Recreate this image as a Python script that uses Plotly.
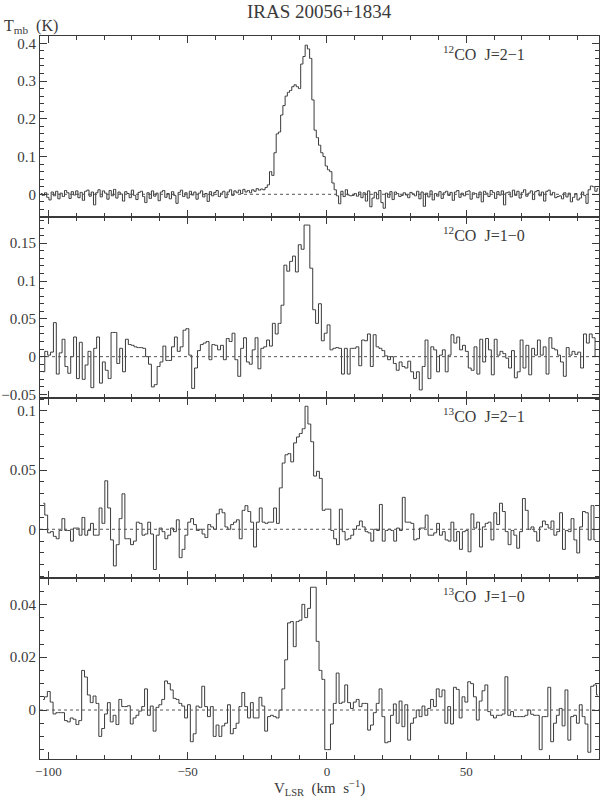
import numpy as np
import plotly.graph_objects as go
from plotly.subplots import make_subplots

# ---------------- data ----------------
# 12CO J=2-1, channel centres from -102.6 to 97.4 km/s
co12_21 = [0.002, -0.003, 0.004, -0.008, -0.015, 0.006, -0.004, 0.008, -0.012, 0.003,
           -0.006, 0.010, 0.004, -0.011, 0.007, -0.002, 0.009, -0.009, 0.005, -0.016,
           0.008, 0.011, -0.005, 0.006, -0.028, 0.004, 0.012, -0.007, 0.009, 0.003,
           -0.013, 0.010, -0.004, 0.013, -0.010, 0.006, 0.001, -0.018, 0.007, 0.002,
           -0.009, 0.011, -0.003, -0.014, 0.005, 0.008, -0.006, -0.022, 0.004, -0.011,
           0.009, -0.005, 0.003, -0.017, 0.006, 0.010, -0.008, 0.002, -0.012, 0.007,
           -0.003, -0.024, 0.005, 0.011, -0.006, 0.004, -0.010, 0.008, -0.002, 0.006,
           -0.013, 0.003, 0.009, -0.007, 0.002, -0.019, 0.007, -0.004, 0.005, 0.010,
           -0.006, 0.003, 0.008, -0.009, 0.006, 0.012, -0.003, 0.009, 0.004, 0.011,
           0.002, 0.013, 0.006, 0.010, 0.004, 0.012, 0.008, 0.015, 0.011, 0.014,
           0.012, 0.018, 0.025, 0.060, 0.050, 0.110, 0.160, 0.165, 0.210, 0.235,
           0.260, 0.270, 0.275, 0.285, 0.290, 0.285, 0.280, 0.345, 0.365, 0.395,
           0.385, 0.360, 0.250, 0.170, 0.150, 0.130, 0.110, 0.100, 0.075, 0.065,
           0.060, 0.030, 0.012,
           -0.004, -0.025, 0.008, -0.006, 0.012, -0.002, -0.004, -0.003, 0.002, -0.005,
           0.006, -0.009, 0.004, -0.018, 0.009, -0.033, -0.010, 0.005, -0.012, 0.010,
           -0.022, -0.037, 0.003, -0.008, 0.007, -0.014, 0.006, 0.002, -0.006, -0.003,
           0.004, -0.002, -0.009, 0.005, 0.001, -0.004, 0.008, -0.012, 0.006, -0.032,
           0.003, -0.007, 0.009, -0.015, 0.002, -0.005, 0.007, -0.011, 0.004, 0.008,
           -0.003, 0.005, -0.016, 0.006, 0.010, -0.008, 0.003, -0.004, 0.007, 0.009,
           -0.013, 0.004, 0.002, -0.009, 0.006, -0.020, 0.008, 0.003, -0.006, 0.010,
           0.005, -0.011, 0.007, -0.002, 0.009, -0.028, 0.004, 0.006, -0.007, 0.011,
           -0.003, 0.008, -0.010, 0.005, 0.012, -0.005, 0.003, 0.009, -0.014, 0.007,
           0.010, -0.004, 0.006, -0.018, 0.008, 0.011, -0.002, 0.005, -0.009, -0.006,
           -0.004, -0.012, 0.004, -0.007, 0.003, -0.020, -0.008, 0.002, -0.015, -0.010,
           0.006, -0.003, -0.024, 0.012, 0.022, 0.020, 0.008, 0.015]

# 12CO J=1-0
co12_10 = [-0.020, 0.007, 0.002, 0.006, 0.045, -0.023, 0.005, 0.023, -0.013, -0.022,
           0.000, 0.026, -0.029, 0.019, -0.030, -0.011, 0.007, -0.041, 0.011, 0.026,
           -0.035, -0.007, -0.018, -0.029, 0.032, 0.032, -0.009, 0.011, -0.020, 0.023,
           0.016, 0.015, 0.013, 0.012, 0.012, 0.011, 0.000, -0.010, -0.040, -0.037,
           -0.013, -0.007, 0.014, -0.005, -0.005, 0.013, 0.026, 0.007, 0.013, 0.035,
           0.037, 0.002, -0.042, -0.015, 0.008, 0.016, 0.018, 0.020, -0.004, 0.016,
           0.015, 0.009, 0.015, -0.004, 0.024, 0.020, 0.031, -0.004, -0.026, 0.011,
           0.025, -0.007, -0.010, 0.009, 0.025, -0.016, 0.011, 0.013, 0.022, 0.014,
           0.044, 0.030, 0.044, 0.068, 0.121, 0.113, 0.126, 0.133, 0.112, 0.148,
           0.142, 0.174, 0.174, 0.117, 0.062, 0.044, 0.070, 0.021, 0.031, 0.042,
           0.009, 0.011, 0.012, 0.011, -0.023, 0.011, -0.023, 0.011, 0.011, 0.013,
           -0.012, 0.022, 0.021, 0.030, -0.013, 0.029, 0.013, 0.011, 0.008, 0.001,
           -0.004, 0.000, -0.009, -0.018, -0.007, -0.013, -0.015, -0.006, -0.020, -0.029,
           -0.020, -0.044, -0.013, 0.022, -0.029, 0.013, 0.009, -0.020, 0.002, 0.009,
           -0.020, 0.002, 0.029, 0.018, 0.026, 0.009, 0.015, 0.007, -0.015, -0.018,
           0.013, -0.023, 0.023, -0.007, 0.024, 0.009, -0.024, 0.023, 0.002, 0.007,
           0.004, -0.002, -0.015, 0.008, -0.028, -0.020, 0.022, -0.015, 0.015, -0.024,
           0.011, 0.002, 0.022, 0.002, 0.013, -0.023, 0.025, 0.011, 0.009, 0.002,
           -0.007, -0.026, 0.012, 0.002, 0.007, 0.003, 0.006, -0.015, 0.030, 0.018,
           0.030, 0.025, 0.000]

# 13CO J=2-1
co13_21 = [0.022, 0.012, -0.003, -0.002, -0.006, -0.008, -0.001, 0.009, -0.001, -0.001,
           -0.010, 0.001, 0.001, -0.005, 0.010, -0.005, -0.001, 0.005, -0.005, -0.005,
           0.018, 0.005, 0.041, 0.018, -0.009, -0.031, -0.013, 0.009, 0.030, -0.008,
           -0.008, -0.013, -0.010, 0.006, 0.005, -0.005, -0.004, 0.006, -0.004, -0.034,
           -0.005, 0.001, -0.002, -0.008, -0.005, 0.001, -0.002, 0.008, -0.024, -0.017,
           -0.005, 0.006, 0.009, 0.004, -0.001, 0.000, -0.004, -0.007, 0.004, 0.002,
           0.000, 0.013, 0.017, 0.014, 0.002, 0.000, 0.004, 0.006, 0.008, -0.008,
           0.016, 0.020, 0.015, 0.006, -0.015, 0.006, 0.018, 0.006, 0.005, 0.006,
           0.006, 0.018, 0.005, 0.035, 0.056, 0.063, 0.064, 0.057, 0.073, 0.078,
           0.081, 0.085, 0.104, 0.089, 0.074, 0.045, 0.049, 0.043, 0.016, 0.017,
           0.017, -0.001, -0.008, -0.013, 0.017, -0.002, -0.009, -0.008, -0.005, 0.000,
           0.003, 0.007, 0.002, -0.002, -0.003, -0.010, 0.000, -0.001, 0.021, -0.010,
           -0.001, 0.000, -0.001, -0.010, 0.001, -0.001, 0.027, 0.006, 0.006, 0.005,
           -0.009, -0.008, 0.001, 0.001, 0.012, -0.005, -0.005, -0.003, 0.005, -0.005,
           -0.002, -0.009, -0.010, 0.006, -0.010, -0.002, -0.017, -0.002, -0.001, -0.019,
           0.013, 0.001, 0.006, -0.015, 0.002, 0.005, 0.006, -0.009, 0.014, 0.004,
           0.022, 0.015, -0.002, -0.013, -0.001, -0.005, -0.016, -0.002, 0.026, 0.016,
           0.000, 0.002, -0.002, -0.010, 0.002, 0.007, 0.004, 0.001, 0.007, -0.005,
           -0.002, 0.014, -0.017, -0.001, -0.002, 0.009, -0.009, -0.020, 0.002, 0.015,
           0.014, -0.009, 0.020, -0.009]

# 13CO J=1-0
co13_10 = [0.004, 0.005, 0.007, 0.003, -0.0015, -0.001, -0.001, -0.001, -0.004, -0.0045,
           -0.003, -0.0035, -0.0055, -0.004, 0.015, 0.0125, 0.0057, 0.0028, 0.0053, 0.0025,
           -0.010, -0.007, -0.0015, 0.0028, -0.0045, -0.002, -0.0055, 0.004, 0.0013, 0.0013,
           0.0016, -0.0053, -0.003, -0.002, -0.0004, 0.0013, 0.008, -0.002, 0.0015, -0.008,
           0.001, 0.002, 0.004, 0.011, 0.010, 0.0076, 0.0044, 0.004, 0.0025, 0.0015,
           -0.003, 0.002, -0.012, -0.009, 0.0015, 0.001, 0.009, 0.0013, -0.0025, 0.0013,
           -0.010, -0.0057, -0.010, -0.006, -0.005, 0.002, -0.009, -0.007, -0.005, 0.0013,
           0.0066, 0.0013, -0.003, 0.0028, -0.003, -0.003, 0.0048, 0.0015, -0.008, -0.0025,
           -0.002, -0.0025, -0.003, 0.000, 0.008, 0.019, 0.033, 0.0335, 0.024, 0.0335,
           0.034, 0.040, 0.035, 0.0385, 0.0465, 0.0465, 0.026, 0.015, 0.0116, -0.015,
           -0.015, -0.0053, 0.0025, 0.014, 0.0025, 0.003, 0.0095, 0.0028, 0.0006, 0.003,
           0.004, 0.0013, 0.0025, 0.0025, -0.0076, -0.0057, -0.001, 0.0025, 0.008, -0.0025,
           -0.0124, -0.012, -0.002, 0.0023, -0.005, 0.0034, -0.0063, 0.002, -0.0114, -0.005,
           -0.003, 0.000, -0.0025, 0.0015, -0.002, 0.0006, 0.004, 0.0013, 0.008, 0.005,
           0.0076, -0.005, 0.0013, -0.0053, 0.0086, 0.0078, -0.003, 0.005, 0.003, 0.0107,
           0.010, 0.005, -0.0038, 0.0034, 0.0073, 0.0095, -0.0006, -0.002, -0.003, -0.002,
           -0.002, -0.0015, 0.0126, -0.002, -0.0006, -0.0025, -0.0025, -0.0025, -0.0025, -0.002,
           0.000, -0.0016, -0.002, -0.002, -0.015, -0.0025, -0.0025, 0.0086, -0.012, -0.005,
           -0.002, 0.0006, -0.006, 0.0076, -0.0114, -0.0025, -0.002, -0.005, 0.002, -0.0025,
           -0.0053, -0.016, 0.009, 0.0095, 0.0057]

# first / last channel centre (km/s) of each spectrum
v_first = [-102.6, -101.8, -101.8, -101.9]
v_last = [97.4, 96.8, 96.4, 97.3]

spectra = [co12_21, co12_10, co13_21, co13_10]
line_labels = ["<sup>12</sup>CO  J=2\u22121", "<sup>12</sup>CO  J=1\u22120",
               "<sup>13</sup>CO  J=2\u22121", "<sup>13</sup>CO  J=1\u22120"]

y_ranges = [[-0.0595, 0.4193], [-0.054, 0.185], [-0.0414, 0.1114], [-0.01855, 0.0499]]
y_tickvals = [[0, 0.1, 0.2, 0.3, 0.4], [-0.05, 0, 0.05, 0.1, 0.15],
              [0, 0.05, 0.1], [0, 0.02, 0.04]]
y_ticktext = [["0", "0.1", "0.2", "0.3", "0.4"], ["\u22120.05", "0", "0.05", "0.1", "0.15"],
              ["0", "0.05", "0.1"], ["0", "0.02", "0.04"]]
y_minor = [0.02, 0.01, 0.01, 0.005]

x_range = [-103.0, 97.7]
x_tickvals = [-100, -50, 0, 50]
x_ticktext = ["\u2212100", "\u221250", "0", "50"]

title = "IRAS 20056+1834"
y_title = "T<sub>mb</sub>  (K)"
x_title = "V<sub>LSR</sub>  (km  s<sup>\u22121</sup>)"

# ---------------- figure ----------------
W, H = 600, 798
ML, MR, MT, MB = 40, 1, 36, 39
FONT = "Liberation Serif"
INK = "#3a3a3a"

fig = make_subplots(rows=4, cols=1, shared_xaxes=True, vertical_spacing=0)

for i, vals in enumerate(spectra):
    r = i + 1
    x = np.linspace(v_first[i], v_last[i], len(vals))
    fig.add_trace(go.Scatter(x=x, y=vals, mode="lines",
                             line=dict(shape="hvh", color=INK, width=1),
                             hoverinfo="skip", showlegend=False), row=r, col=1)
    # dotted zero line
    fig.add_trace(go.Scatter(x=x_range, y=[0, 0], mode="lines",
                             line=dict(color="#555555", width=1, dash="dot"),
                             hoverinfo="skip", showlegend=False), row=r, col=1)
    fig.update_yaxes(row=r, col=1, range=y_ranges[i], tickvals=y_tickvals[i],
                     ticktext=y_ticktext[i], ticks="inside", ticklen=7, tickcolor=INK,
                     showline=True, linecolor=INK, linewidth=1, mirror="ticks",
                     showgrid=False, zeroline=False,
                     minor=dict(dtick=y_minor[i], tick0=0, ticks="inside", ticklen=4,
                                tickcolor=INK, showgrid=False),
                     tickfont=dict(family=FONT, size=15, color=INK))
    fig.update_xaxes(row=r, col=1, range=x_range, tickvals=x_tickvals,
                     ticktext=x_ticktext, ticks="inside", ticklen=7, tickcolor=INK,
                     showline=True, linecolor=INK, linewidth=1, mirror="ticks",
                     showgrid=False, zeroline=False,
                     minor=dict(dtick=10, tick0=0, ticks="inside", ticklen=4,
                                tickcolor=INK, showgrid=False),
                     showticklabels=(r == 4),
                     tickfont=dict(family=FONT, size=13, color=INK))
    fig.add_annotation(text=line_labels[i], xref=f"x{'' if r == 1 else r}",
                       yref=f"y{'' if r == 1 else r} domain", x=41, y=0.905,
                       xanchor="left", yanchor="middle", showarrow=False,
                       font=dict(family=FONT, size=16, color=INK))

PH = H - MT - MB
fig.add_annotation(text=title, xref="paper", yref="paper", x=0.5, y=1 + (MT - 12) / PH,
                   xanchor="center", yanchor="middle", showarrow=False,
                   font=dict(family=FONT, size=19, color=INK))
fig.add_annotation(text=y_title, xref="paper", yref="paper", x=(2 - ML) / (W - ML - MR),
                   y=1 + (MT - 26) / PH, xanchor="left", yanchor="middle", showarrow=False,
                   font=dict(family=FONT, size=16, color=INK))
fig.add_annotation(text=x_title, xref="paper", yref="paper", x=0.5, y=-(788 - (H - MB)) / PH,
                   xanchor="center", yanchor="middle", showarrow=False,
                   font=dict(family=FONT, size=15, color=INK))

fig.update_layout(width=W, height=H, margin=dict(l=ML, r=MR, t=MT, b=MB),
                  paper_bgcolor="white", plot_bgcolor="white")

fig.write_html("out.html", config={"displayModeBar": False},
               post_script="document.body.style.margin='0';document.body.style.overflow='hidden';")
